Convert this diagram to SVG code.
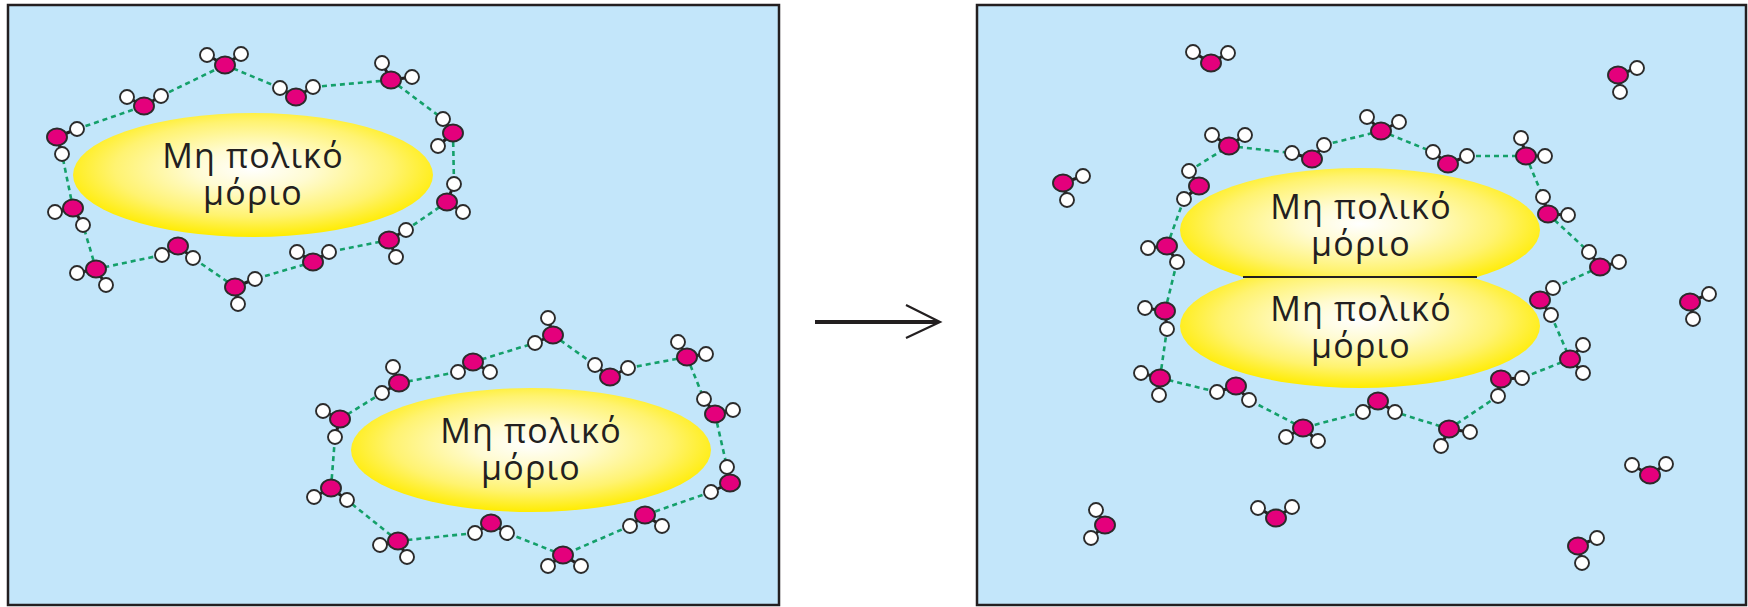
<svg xmlns="http://www.w3.org/2000/svg" width="1748" height="607" viewBox="0 0 1748 607">
  <style>
    .panel { fill: #c3e6fa; stroke: #231f20; stroke-width: 2.5; }
    .hb { fill: none; stroke: #14a06a; stroke-width: 2.6; stroke-dasharray: 5 4; }
    .bond { stroke: #231f20; stroke-width: 3; }
    .h { fill: #ffffff; stroke: #2b2b2b; stroke-width: 1.9; }
    .o { fill: #e4007c; stroke: #2b2b2b; stroke-width: 1.9; }
    .lbl { font-family: "Open Sans", "Noto Sans", "DejaVu Sans", sans-serif; font-size: 34px; letter-spacing: 1.2px; fill: #231f20; text-anchor: middle; }
    .arrow { stroke: #231f20; fill: none; }
  </style>
  <defs>
    <radialGradient id="glow" cx="0.5" cy="0.45" r="0.55">
      <stop offset="0" stop-color="#ffffff"/>
      <stop offset="0.3" stop-color="#fffbd2"/>
      <stop offset="0.7" stop-color="#fff370"/>
      <stop offset="1" stop-color="#ffec00"/>
    </radialGradient>
    <clipPath id="upper"><rect x="1100" y="100" width="500" height="177"/></clipPath>
    <clipPath id="lower"><rect x="1100" y="277" width="500" height="200"/></clipPath>
  </defs>

  <!-- panels -->
  <rect id="panel-before" class="panel" x="8" y="5" width="771" height="600"/>
  <rect id="panel-after" class="panel" x="977" y="5" width="769" height="600"/>

  <!-- hydrogen-bond connectors -->
  <g id="connectors">
    <path class="hb" d="M77 129L144 106 M161 96L225 65 M225 65L280 88 M313 87L391 80 M391 80L443 119 M453 133L454 184 M447 202L406 230 M389 240L329 252 M313 262L255 279 M235 287L193 258 M162 255L96 269 M96 269L83 225 M73 208L62 154"/>
    <path class="hb" d="M473 362L535 343 M553 335L595 365 M628 368L687 357 M687 357L704 399 M715 414L727 467 M711 492L645 515 M630 526L563 555 M563 555L507 533 M475 533L398 541 M398 541L347 500 M331 488L335 437 M340 419L382 393 M399 383L458 372"/>
    <path class="hb" d="M1229 146L1292 153 M1324 145L1381 131 M1381 131L1433 152 M1467 156L1526 156 M1526 156L1543 197 M1548 214L1589 252 M1600 267L1553 288 M1551 315L1570 359 M1570 359L1522 378 M1498 396L1449 429 M1449 429L1395 412 M1363 412L1303 428 M1303 428L1249 400 M1217 392L1160 378 M1160 378L1167 329 M1165 311L1177 262 M1167 246L1184 199 M1189 171L1229 146"/>
    <!-- reaction arrow -->
    <line class="arrow" x1="815" y1="322" x2="938" y2="322" stroke-width="4"/>
    <polyline class="arrow" points="906,305 940,322 906,338" stroke-width="2.2"/>
  </g>

  <!-- non-polar molecules -->
  <g id="solute-left">
    <ellipse cx="253" cy="175" rx="180" ry="62" fill="url(#glow)"/>
    <text class="lbl" x="253" y="168">Μη πολικό<tspan x="253" dy="37">μόριο</tspan></text>
  </g>
  <g id="solute-right">
    <ellipse cx="531" cy="450" rx="180" ry="62" fill="url(#glow)"/>
    <text class="lbl" x="531" y="443">Μη πολικό<tspan x="531" dy="37">μόριο</tspan></text>
  </g>
  <g id="solute-pair">
    <ellipse cx="1360" cy="230" rx="180" ry="62" fill="url(#glow)" clip-path="url(#upper)"/>
    <ellipse cx="1360" cy="326" rx="180" ry="62" fill="url(#glow)" clip-path="url(#lower)"/>
    <line x1="1243" y1="277" x2="1477" y2="277" stroke="#231f20" stroke-width="2"/>
    <text class="lbl" x="1361" y="219">Μη πολικό<tspan x="1361" dy="37">μόριο</tspan></text>
    <text class="lbl" x="1361" y="321">Μη πολικό<tspan x="1361" dy="37">μόριο</tspan></text>
  </g>

  <!-- water molecules: shell around left solute -->
  <g id="water-shell-1">
    <g><path class="bond" d="M225 65L207 55M225 65L241 54"/><circle class="h" cx="207" cy="55" r="7"/><circle class="h" cx="241" cy="54" r="7"/><ellipse class="o" cx="225" cy="65" rx="10" ry="8.5"/></g>
    <g><path class="bond" d="M296 97L280 88M296 97L313 87"/><circle class="h" cx="280" cy="88" r="7"/><circle class="h" cx="313" cy="87" r="7"/><ellipse class="o" cx="296" cy="97" rx="10" ry="8.5"/></g>
    <g><path class="bond" d="M391 80L382 63M391 80L412 77"/><circle class="h" cx="382" cy="63" r="7"/><circle class="h" cx="412" cy="77" r="7"/><ellipse class="o" cx="391" cy="80" rx="10" ry="8.5"/></g>
    <g><path class="bond" d="M453 133L443 119M453 133L438 146"/><circle class="h" cx="443" cy="119" r="7"/><circle class="h" cx="438" cy="146" r="7"/><ellipse class="o" cx="453" cy="133" rx="10" ry="8.5"/></g>
    <g><path class="bond" d="M447 202L454 184M447 202L463 212"/><circle class="h" cx="454" cy="184" r="7"/><circle class="h" cx="463" cy="212" r="7"/><ellipse class="o" cx="447" cy="202" rx="10" ry="8.5"/></g>
    <g><path class="bond" d="M389 240L406 230M389 240L396 257"/><circle class="h" cx="406" cy="230" r="7"/><circle class="h" cx="396" cy="257" r="7"/><ellipse class="o" cx="389" cy="240" rx="10" ry="8.5"/></g>
    <g><path class="bond" d="M313 262L297 252M313 262L329 252"/><circle class="h" cx="297" cy="252" r="7"/><circle class="h" cx="329" cy="252" r="7"/><ellipse class="o" cx="313" cy="262" rx="10" ry="8.5"/></g>
    <g><path class="bond" d="M235 287L255 279M235 287L238 304"/><circle class="h" cx="255" cy="279" r="7"/><circle class="h" cx="238" cy="304" r="7"/><ellipse class="o" cx="235" cy="287" rx="10" ry="8.5"/></g>
    <g><path class="bond" d="M178 246L162 255M178 246L193 258"/><circle class="h" cx="162" cy="255" r="7"/><circle class="h" cx="193" cy="258" r="7"/><ellipse class="o" cx="178" cy="246" rx="10" ry="8.5"/></g>
    <g><path class="bond" d="M96 269L77 273M96 269L106 285"/><circle class="h" cx="77" cy="273" r="7"/><circle class="h" cx="106" cy="285" r="7"/><ellipse class="o" cx="96" cy="269" rx="10" ry="8.5"/></g>
    <g><path class="bond" d="M73 208L55 212M73 208L83 225"/><circle class="h" cx="55" cy="212" r="7"/><circle class="h" cx="83" cy="225" r="7"/><ellipse class="o" cx="73" cy="208" rx="10" ry="8.5"/></g>
    <g><path class="bond" d="M57 137L77 129M57 137L62 154"/><circle class="h" cx="77" cy="129" r="7"/><circle class="h" cx="62" cy="154" r="7"/><ellipse class="o" cx="57" cy="137" rx="10" ry="8.5"/></g>
    <g><path class="bond" d="M144 106L127 97M144 106L161 96"/><circle class="h" cx="127" cy="97" r="7"/><circle class="h" cx="161" cy="96" r="7"/><ellipse class="o" cx="144" cy="106" rx="10" ry="8.5"/></g>
  </g>

  <!-- water molecules: shell around lower solute -->
  <g id="water-shell-2">
    <g><path class="bond" d="M553 335L548 318M553 335L535 343"/><circle class="h" cx="548" cy="318" r="7"/><circle class="h" cx="535" cy="343" r="7"/><ellipse class="o" cx="553" cy="335" rx="10" ry="8.5"/></g>
    <g><path class="bond" d="M610 377L595 365M610 377L628 368"/><circle class="h" cx="595" cy="365" r="7"/><circle class="h" cx="628" cy="368" r="7"/><ellipse class="o" cx="610" cy="377" rx="10" ry="8.5"/></g>
    <g><path class="bond" d="M687 357L678 342M687 357L706 354"/><circle class="h" cx="678" cy="342" r="7"/><circle class="h" cx="706" cy="354" r="7"/><ellipse class="o" cx="687" cy="357" rx="10" ry="8.5"/></g>
    <g><path class="bond" d="M715 414L704 399M715 414L733 410"/><circle class="h" cx="704" cy="399" r="7"/><circle class="h" cx="733" cy="410" r="7"/><ellipse class="o" cx="715" cy="414" rx="10" ry="8.5"/></g>
    <g><path class="bond" d="M730 483L727 467M730 483L711 492"/><circle class="h" cx="727" cy="467" r="7"/><circle class="h" cx="711" cy="492" r="7"/><ellipse class="o" cx="730" cy="483" rx="10" ry="8.5"/></g>
    <g><path class="bond" d="M645 515L630 526M645 515L662 526"/><circle class="h" cx="630" cy="526" r="7"/><circle class="h" cx="662" cy="526" r="7"/><ellipse class="o" cx="645" cy="515" rx="10" ry="8.5"/></g>
    <g><path class="bond" d="M563 555L548 566M563 555L581 566"/><circle class="h" cx="548" cy="566" r="7"/><circle class="h" cx="581" cy="566" r="7"/><ellipse class="o" cx="563" cy="555" rx="10" ry="8.5"/></g>
    <g><path class="bond" d="M491 523L475 533M491 523L507 533"/><circle class="h" cx="475" cy="533" r="7"/><circle class="h" cx="507" cy="533" r="7"/><ellipse class="o" cx="491" cy="523" rx="10" ry="8.5"/></g>
    <g><path class="bond" d="M398 541L380 545M398 541L407 557"/><circle class="h" cx="380" cy="545" r="7"/><circle class="h" cx="407" cy="557" r="7"/><ellipse class="o" cx="398" cy="541" rx="10" ry="8.5"/></g>
    <g><path class="bond" d="M331 488L314 497M331 488L347 500"/><circle class="h" cx="314" cy="497" r="7"/><circle class="h" cx="347" cy="500" r="7"/><ellipse class="o" cx="331" cy="488" rx="10" ry="8.5"/></g>
    <g><path class="bond" d="M340 419L323 411M340 419L335 437"/><circle class="h" cx="323" cy="411" r="7"/><circle class="h" cx="335" cy="437" r="7"/><ellipse class="o" cx="340" cy="419" rx="10" ry="8.5"/></g>
    <g><path class="bond" d="M399 383L393 367M399 383L382 393"/><circle class="h" cx="393" cy="367" r="7"/><circle class="h" cx="382" cy="393" r="7"/><ellipse class="o" cx="399" cy="383" rx="10" ry="8.5"/></g>
    <g><path class="bond" d="M473 362L458 372M473 362L490 372"/><circle class="h" cx="458" cy="372" r="7"/><circle class="h" cx="490" cy="372" r="7"/><ellipse class="o" cx="473" cy="362" rx="10" ry="8.5"/></g>
  </g>

  <!-- water molecules: shared shell around the joined solutes -->
  <g id="water-shell-3">
    <g><path class="bond" d="M1229 146L1212 135M1229 146L1245 135"/><circle class="h" cx="1212" cy="135" r="7"/><circle class="h" cx="1245" cy="135" r="7"/><ellipse class="o" cx="1229" cy="146" rx="10" ry="8.5"/></g>
    <g><path class="bond" d="M1312 159L1292 153M1312 159L1324 145"/><circle class="h" cx="1292" cy="153" r="7"/><circle class="h" cx="1324" cy="145" r="7"/><ellipse class="o" cx="1312" cy="159" rx="10" ry="8.5"/></g>
    <g><path class="bond" d="M1381 131L1367 117M1381 131L1399 122"/><circle class="h" cx="1367" cy="117" r="7"/><circle class="h" cx="1399" cy="122" r="7"/><ellipse class="o" cx="1381" cy="131" rx="10" ry="8.5"/></g>
    <g><path class="bond" d="M1448 164L1433 152M1448 164L1467 156"/><circle class="h" cx="1433" cy="152" r="7"/><circle class="h" cx="1467" cy="156" r="7"/><ellipse class="o" cx="1448" cy="164" rx="10" ry="8.5"/></g>
    <g><path class="bond" d="M1526 156L1521 138M1526 156L1545 156"/><circle class="h" cx="1521" cy="138" r="7"/><circle class="h" cx="1545" cy="156" r="7"/><ellipse class="o" cx="1526" cy="156" rx="10" ry="8.5"/></g>
    <g><path class="bond" d="M1548 214L1543 197M1548 214L1568 215"/><circle class="h" cx="1543" cy="197" r="7"/><circle class="h" cx="1568" cy="215" r="7"/><ellipse class="o" cx="1548" cy="214" rx="10" ry="8.5"/></g>
    <g><path class="bond" d="M1600 267L1589 252M1600 267L1619 262"/><circle class="h" cx="1589" cy="252" r="7"/><circle class="h" cx="1619" cy="262" r="7"/><ellipse class="o" cx="1600" cy="267" rx="10" ry="8.5"/></g>
    <g><path class="bond" d="M1540 300L1553 288M1540 300L1551 315"/><circle class="h" cx="1553" cy="288" r="7"/><circle class="h" cx="1551" cy="315" r="7"/><ellipse class="o" cx="1540" cy="300" rx="10" ry="8.5"/></g>
    <g><path class="bond" d="M1570 359L1583 345M1570 359L1583 373"/><circle class="h" cx="1583" cy="345" r="7"/><circle class="h" cx="1583" cy="373" r="7"/><ellipse class="o" cx="1570" cy="359" rx="10" ry="8.5"/></g>
    <g><path class="bond" d="M1501 379L1522 378M1501 379L1498 396"/><circle class="h" cx="1522" cy="378" r="7"/><circle class="h" cx="1498" cy="396" r="7"/><ellipse class="o" cx="1501" cy="379" rx="10" ry="8.5"/></g>
    <g><path class="bond" d="M1449 429L1470 432M1449 429L1441 446"/><circle class="h" cx="1470" cy="432" r="7"/><circle class="h" cx="1441" cy="446" r="7"/><ellipse class="o" cx="1449" cy="429" rx="10" ry="8.5"/></g>
    <g><path class="bond" d="M1378 401L1363 412M1378 401L1395 412"/><circle class="h" cx="1363" cy="412" r="7"/><circle class="h" cx="1395" cy="412" r="7"/><ellipse class="o" cx="1378" cy="401" rx="10" ry="8.5"/></g>
    <g><path class="bond" d="M1303 428L1286 437M1303 428L1318 441"/><circle class="h" cx="1286" cy="437" r="7"/><circle class="h" cx="1318" cy="441" r="7"/><ellipse class="o" cx="1303" cy="428" rx="10" ry="8.5"/></g>
    <g><path class="bond" d="M1236 386L1217 392M1236 386L1249 400"/><circle class="h" cx="1217" cy="392" r="7"/><circle class="h" cx="1249" cy="400" r="7"/><ellipse class="o" cx="1236" cy="386" rx="10" ry="8.5"/></g>
    <g><path class="bond" d="M1160 378L1141 373M1160 378L1159 395"/><circle class="h" cx="1141" cy="373" r="7"/><circle class="h" cx="1159" cy="395" r="7"/><ellipse class="o" cx="1160" cy="378" rx="10" ry="8.5"/></g>
    <g><path class="bond" d="M1165 311L1145 308M1165 311L1167 329"/><circle class="h" cx="1145" cy="308" r="7"/><circle class="h" cx="1167" cy="329" r="7"/><ellipse class="o" cx="1165" cy="311" rx="10" ry="8.5"/></g>
    <g><path class="bond" d="M1167 246L1148 248M1167 246L1177 262"/><circle class="h" cx="1148" cy="248" r="7"/><circle class="h" cx="1177" cy="262" r="7"/><ellipse class="o" cx="1167" cy="246" rx="10" ry="8.5"/></g>
    <g><path class="bond" d="M1199 186L1189 171M1199 186L1184 199"/><circle class="h" cx="1189" cy="171" r="7"/><circle class="h" cx="1184" cy="199" r="7"/><ellipse class="o" cx="1199" cy="186" rx="10" ry="8.5"/></g>
  </g>

  <!-- free water molecules in bulk -->
  <g id="water-free">
    <g><path class="bond" d="M1211 63L1193 52M1211 63L1228 53"/><circle class="h" cx="1193" cy="52" r="7"/><circle class="h" cx="1228" cy="53" r="7"/><ellipse class="o" cx="1211" cy="63" rx="10" ry="8.5"/></g>
    <g><path class="bond" d="M1618 75L1637 68M1618 75L1620 92"/><circle class="h" cx="1637" cy="68" r="7"/><circle class="h" cx="1620" cy="92" r="7"/><ellipse class="o" cx="1618" cy="75" rx="10" ry="8.5"/></g>
    <g><path class="bond" d="M1063 183L1083 176M1063 183L1067 200"/><circle class="h" cx="1083" cy="176" r="7"/><circle class="h" cx="1067" cy="200" r="7"/><ellipse class="o" cx="1063" cy="183" rx="10" ry="8.5"/></g>
    <g><path class="bond" d="M1690 302L1709 294M1690 302L1693 319"/><circle class="h" cx="1709" cy="294" r="7"/><circle class="h" cx="1693" cy="319" r="7"/><ellipse class="o" cx="1690" cy="302" rx="10" ry="8.5"/></g>
    <g><path class="bond" d="M1650 475L1632 465M1650 475L1666 464"/><circle class="h" cx="1632" cy="465" r="7"/><circle class="h" cx="1666" cy="464" r="7"/><ellipse class="o" cx="1650" cy="475" rx="10" ry="8.5"/></g>
    <g><path class="bond" d="M1276 518L1258 508M1276 518L1292 507"/><circle class="h" cx="1258" cy="508" r="7"/><circle class="h" cx="1292" cy="507" r="7"/><ellipse class="o" cx="1276" cy="518" rx="10" ry="8.5"/></g>
    <g><path class="bond" d="M1105 525L1096 510M1105 525L1091 538"/><circle class="h" cx="1096" cy="510" r="7"/><circle class="h" cx="1091" cy="538" r="7"/><ellipse class="o" cx="1105" cy="525" rx="10" ry="8.5"/></g>
    <g><path class="bond" d="M1578 546L1597 538M1578 546L1582 563"/><circle class="h" cx="1597" cy="538" r="7"/><circle class="h" cx="1582" cy="563" r="7"/><ellipse class="o" cx="1578" cy="546" rx="10" ry="8.5"/></g>
  </g>
</svg>
